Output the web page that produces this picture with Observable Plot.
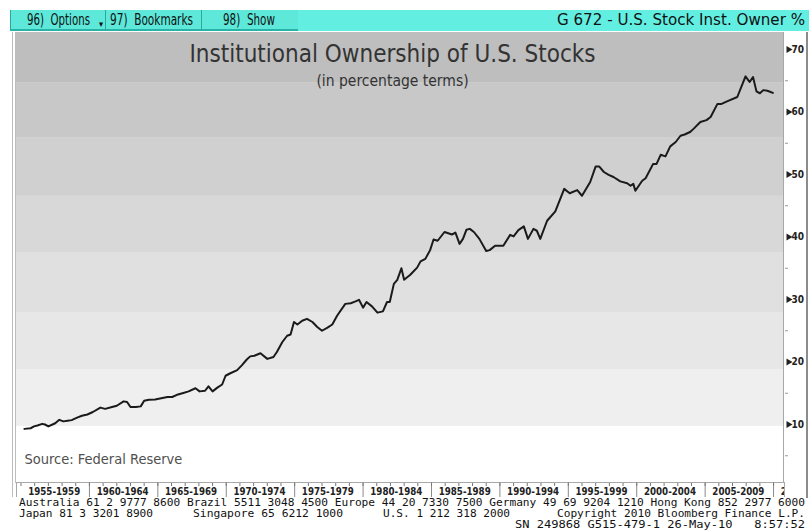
<!DOCTYPE html>
<html>
<head>
<meta charset="utf-8">
<script src="https://cdn.jsdelivr.net/npm/d3@7"></script>
<script src="https://cdn.jsdelivr.net/npm/@observablehq/plot@0.6"></script>
<style>
  html, body { margin: 0; padding: 0; background: #fff; }
  body { width: 809px; height: 530px; position: relative; overflow: hidden; font-family: "DejaVu Sans Condensed", "DejaVu Sans", sans-serif; }
  .btn { position: absolute; top: 10px; height: 19px; background: #5de8d9; border-bottom: 2px solid #27b3a6; border-left: 1px solid #2aa89c; }
  .panel { position: absolute; top: 10px; left: 298px; width: 511px; height: 21px; background: #62efe1; }
  .bt { position: absolute; top: 10px; font-size: 16.5px; line-height: 20px; color: #111; white-space: pre; display: inline-block; transform-origin: left center; }
  .vline { position: absolute; width: 1px; background: #bdbdbd; }
  .foot { position: absolute; font-family: "DejaVu Sans Mono", monospace; font-size: 11.15px; line-height: 10px; color: #111; white-space: pre; display: inline-block; transform-origin: left center; }
  #chart { position: absolute; left: 0; top: 32px; }
  #xaxis { position: absolute; left: 0; top: 482px; }
</style>
</head>
<body>
<div class="btn" style="left:10px;width:94px;"></div>
<div class="btn" style="left:105px;width:95px;"></div>
<div class="btn" style="left:201px;width:96px;"></div>
<div class="panel"></div>
<span class="bt" style="left:27px;" data-w="63">96)  Options</span>
<span class="bt" style="left:99px;top:14px;font-size:9px;">▾</span>
<span class="bt" style="left:110px;" data-w="83">97)  Bookmarks</span>
<span class="bt" style="left:223px;" data-w="52">98)  Show</span>
<span class="bt" style="left:557px;" data-w="248">G 672 - U.S. Stock Inst. Owner %</span>
<div id="chart"></div>
<div id="xaxis"></div>
<div class="vline" style="left:12px;top:32px;height:465px;"></div>
<div class="vline" style="left:15px;top:32px;height:451px;"></div>
<div class="vline" style="left:783px;top:32px;height:451px;background:#a8a8a8;"></div>
<div class="vline" style="left:806px;top:32px;height:466px;width:2px;background:#8c8c8c;"></div>
<span class="foot" style="left:19px;top:498px;" data-w="786">Australia 61 2 9777 8600 Brazil 5511 3048 4500 Europe 44 20 7330 7500 Germany 49 69 9204 1210 Hong Kong 852 2977 6000</span>
<span class="foot" style="left:19px;top:509px;" data-w="134">Japan 81 3 3201 8900</span>
<span class="foot" style="left:193px;top:509px;" data-w="150">Singapore 65 6212 1000</span>
<span class="foot" style="left:383px;top:509px;" data-w="127">U.S. 1 212 318 2000</span>
<span class="foot" style="left:557px;top:509px;" data-w="248">Copyright 2010 Bloomberg Finance L.P.</span>
<span class="foot" style="left:515px;top:520px;" data-w="290">SN 249868 G515-479-1 26-May-10   8:57:52</span>
<script>
// ---- data ----
const years = [
  1955.25, 1955.7, 1955.95, 1956.2, 1956.55, 1956.75, 1957.0, 1957.3, 1957.5, 1957.8,
  1958.1, 1958.4, 1958.7, 1959.1, 1959.45, 1959.85, 1960.25, 1960.8, 1961.15, 1961.65,
  1962.0, 1962.5, 1962.75, 1963.0, 1963.4, 1963.75, 1964.0, 1964.35, 1964.8, 1965.25,
  1965.7, 1966.05, 1966.4, 1966.8, 1967.25, 1967.75, 1968.05, 1968.45, 1968.7, 1969.0,
  1969.35, 1969.7, 1969.95, 1970.3, 1970.8, 1971.15, 1971.5, 1971.75, 1972.05, 1972.5,
  1973.0, 1973.45, 1973.7, 1974.1, 1974.45, 1974.7, 1974.95, 1975.2, 1975.55, 1975.9,
  1976.3, 1976.65, 1977.0, 1977.4, 1977.75, 1978.1, 1978.7, 1979.1, 1979.45, 1979.7,
  1980.0, 1980.25, 1980.65, 1981.05, 1981.45, 1981.75, 1981.95, 1982.25, 1982.5, 1982.8,
  1983.0, 1983.45, 1983.95, 1984.2, 1984.55, 1984.9, 1985.15, 1985.45, 1985.95, 1986.5,
  1986.75, 1987.05, 1987.3, 1987.55, 1987.8, 1988.1, 1988.5, 1989.0, 1989.25, 1989.65,
  1990.25, 1990.75, 1991.0, 1991.35, 1991.75, 1992.05, 1992.45, 1992.7, 1992.95, 1993.45,
  1994.05, 1994.7, 1995.1, 1995.65, 1996.0, 1996.6, 1997.0, 1997.25, 1997.6, 1997.95,
  1998.3, 1998.8, 1999.3, 1999.55, 1999.75, 1999.9, 2000.4, 2000.65, 2001.2, 2001.45,
  2001.75, 2002.1, 2002.45, 2002.85, 2003.2, 2003.5, 2003.9, 2004.15, 2004.65, 2005.1,
  2005.4, 2005.9, 2006.2, 2006.6, 2007.35, 2007.95, 2008.25, 2008.5, 2008.75, 2009.0,
  2009.25, 2009.55, 2009.95
];
const ownership = [
  9.3, 9.4, 9.7, 9.85, 10.1, 10.0, 9.7, 10.0, 10.2, 10.75,
  10.5, 10.6, 10.7, 11.1, 11.4, 11.6, 12.0, 12.7, 12.5, 12.8,
  13.0, 13.7, 13.6, 12.8, 12.8, 12.9, 13.8, 13.95, 14.0, 14.2,
  14.4, 14.4, 14.75, 15.0, 15.3, 15.8, 15.3, 15.4, 16.1, 15.3,
  15.9, 16.4, 17.8, 18.2, 18.7, 19.5, 20.4, 20.9, 21.0, 21.4,
  20.5, 20.8, 21.6, 23.2, 24.2, 24.4, 26.4, 26.0, 26.6, 26.9,
  26.4, 25.6, 25.0, 25.5, 26.0, 27.4, 29.3, 29.4, 29.7, 29.95,
  28.7, 29.6, 28.9, 27.9, 28.1, 29.6, 29.6, 32.5, 33.15, 35.0,
  33.15, 33.95, 35.1, 36.1, 36.5, 37.9, 39.6, 39.4, 40.8, 40.4,
  40.7, 38.9, 39.7, 41.15, 41.3, 40.8, 39.7, 37.75, 37.9, 38.6,
  38.6, 40.35, 40.1, 41.1, 41.7, 39.7, 41.3, 41.0, 39.7, 42.6,
  44.1, 47.7, 47.0, 47.5, 46.6, 48.8, 51.3, 51.3, 50.4, 49.95,
  49.6, 48.9, 48.6, 48.2, 48.5, 47.4, 49.0, 49.4, 51.7, 51.7,
  53.15, 52.9, 54.5, 55.2, 56.2, 56.4, 56.8, 57.3, 58.4, 58.7,
  59.2, 61.3, 61.3, 61.7, 62.4, 65.7, 64.8, 65.6, 63.3, 63.0,
  63.5, 63.4, 63.05
];
const bandLower = [0.72, 9.7, 18.8, 27.9, 37.4, 46.5, 55.8, 64.6];
const bandUpper = [9.7, 18.8, 27.9, 37.4, 46.5, 55.8, 64.6, 72.72];
const bandColors = ["#ffffff", "#efefef", "#e7e7e7", "#e0e0e0", "#d8d8d8", "#d0d0d0", "#c8c8c8", "#bebebe"];
const yMajorTicks = [10, 20, 30, 40, 50, 60, 70];
const yMinorTicks = [5, 15, 25, 35, 45, 55, 65];
const periodStarts = [1955, 1960, 1965, 1970, 1975, 1980, 1985, 1990, 1995, 2000, 2005, 2010];
const periodLabels = ["1955-1959", "1960-1964", "1965-1969", "1970-1974", "1975-1979", "1980-1984",
                      "1985-1989", "1990-1994", "1995-1999", "2000-2004", "2005-2009", "2010-2014"];
const yearTicks = d3.range(1955, 2011);
const titleText = "Institutional Ownership of U.S. Stocks";
const subtitleText = "(in percentage terms)";
const sourceText = "Source: Federal Reserve";

const series = years.map((y, i) => ({year: y, value: ownership[i]}));
const bands = bandLower.map((lo, i) => ({lo, hi: bandUpper[i], color: bandColors[i]}));
const periods = periodStarts.map((s, i) => ({start: s, mid: s + 2.5, label: periodLabels[i]}));

const FONT = "DejaVu Sans Condensed";
const xDomain = [1954.67, 2010.8];

const chart = Plot.plot({
  width: 809, height: 450,
  marginLeft: 16, marginRight: 25, marginTop: 0, marginBottom: 0,
  style: {fontFamily: FONT, background: "transparent"},
  x: {domain: xDomain, axis: null},
  y: {domain: [0.72, 72.72], axis: null},
  marks: [
    Plot.rect(bands, {y1: "lo", y2: "hi", fill: "color"}),
    Plot.text([titleText], {text: d => d, frameAnchor: "top", dy: 12, dx: -8, fontSize: 24, fill: "#333", fontFamily: FONT}),
    Plot.text([subtitleText], {text: d => d, frameAnchor: "top", dy: 42, dx: -8, fontSize: 15.5, fill: "#333", fontFamily: FONT}),
    Plot.text([sourceText], {text: d => d, frameAnchor: "bottom-left", dx: 8, dy: -19, textAnchor: "start", fontSize: 14.5, fill: "#505050", fontFamily: FONT}),
    Plot.line(series, {x: "year", y: "value", stroke: "#1a1a1a", strokeWidth: 2, strokeLinejoin: "round"}),
    Plot.axisY({anchor: "right", ticks: yMinorTicks, tickSize: 3, tickFormat: () => "", stroke: "#999"}),
    Plot.axisY({anchor: "right", ticks: yMajorTicks, tickSize: 0, tickPadding: 7, fontSize: 10, fontWeight: "bold", fill: "#222", fontFamily: FONT}),
    Plot.dot(yMajorTicks, {y: d => d, frameAnchor: "right", dx: 4, symbol: "triangle", r: 2.6, rotate: 90, fill: "#222", stroke: "none"})
  ]
});
document.getElementById("chart").appendChild(chart);

const xaxis = Plot.plot({
  width: 809, height: 15,
  marginLeft: 16, marginRight: 25, marginTop: 0, marginBottom: 0,
  style: {fontFamily: FONT, background: "#fff"},
  x: {domain: xDomain, axis: null},
  marks: [
    Plot.frame({stroke: "#a8a8a8"}),
    Plot.ruleX(periods.slice(1), {x: "start", stroke: "#8a8a8a"}),
    Plot.axisX({anchor: "top", ticks: yearTicks, tickSize: -3, tickFormat: () => "", stroke: "#777"}),
    Plot.text(periods, {x: "mid", text: "label", frameAnchor: "middle", dy: 1, dx: -1, fontSize: 11, fontWeight: "bold", fill: "#222", clip: true, className: "period-label"})
  ]
});
document.getElementById("xaxis").appendChild(xaxis);
// narrow the bold period labels to the reference's width
xaxis.querySelectorAll(".period-label text").forEach(t => {
  t.setAttribute("textLength", 52);
  t.setAttribute("lengthAdjust", "spacingAndGlyphs");
});

// fit the HTML header/footer texts to the widths seen in the reference
document.querySelectorAll("[data-w]").forEach(el => {
  const w = el.getBoundingClientRect().width;
  const target = +el.dataset.w;
  if (w > 0) el.style.transform = `scaleX(${target / w})`;
});
</script>
</body>
</html>
